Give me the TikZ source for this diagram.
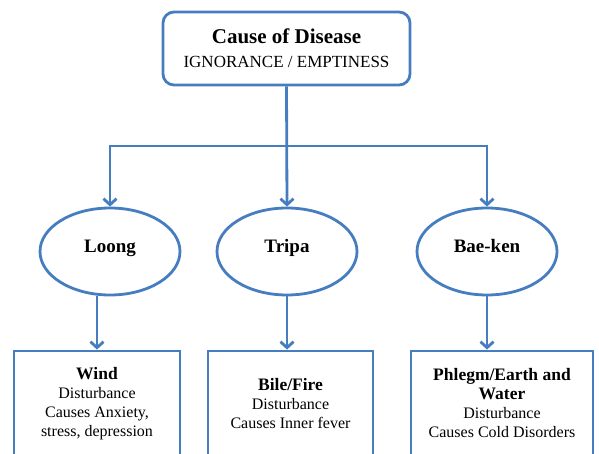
\documentclass[tikz,border=0pt]{standalone}
\usepackage{fontspec}
\setmainfont{Liberation Serif}
\usetikzlibrary{shapes.geometric,arrows.meta}
\definecolor{linkblue}{RGB}{70,124,192}
\begin{document}
\begin{tikzpicture}[x=1pt,y=-1pt,line width=2.8pt,color=linkblue,
    >={Straight Barb[length=6pt,width=13pt]},
    rootbox/.style={draw,rounded corners=11pt,minimum width=247pt,minimum height=73pt,text=black,align=center,font=\fontsize{17}{24}\selectfont},
    humour/.style={draw,ellipse,minimum width=140pt,minimum height=87pt,text=black,font=\fontsize{19}{22}\selectfont\bfseries},
    effectbox/.style={draw,minimum height=105pt,text=black,align=center,font=\fontsize{16}{19}\selectfont}]
    \useasboundingbox (0,0) rectangle (599,454);
    \clip (0,0) rectangle (599,454);
    \node[rootbox] (cause) at (286.5,48.5)
       {{\fontsize{21}{24}\selectfont\bfseries Cause of Disease}\\IGNORANCE / EMPTINESS};
    \foreach \n/\x/\t in {loong/110/Loong,tripa/287/Tripa,baeken/487/Bae-ken}{
       \node[humour] (\n) at (\x,251.5) {\raisebox{11pt}{\t}};   % label sits a bit high
    }
    \node[effectbox,minimum width=166pt] (wind) at (97,403.5)
       {{\fontsize{17.5}{19}\selectfont\bfseries Wind}\\Disturbance\\Causes Anxiety,\\stress, depression};
    \node[effectbox,minimum width=165pt] (bile) at (290.5,403.5)
       {{\fontsize{17.5}{19}\selectfont\bfseries Bile/Fire}\\Disturbance\\Causes Inner fever};
    \node[effectbox,minimum width=182pt] (phlegm) at (502,403.5)
       {{\fontsize{17.5}{19}\selectfont\bfseries Phlegm/Earth and}\\{\fontsize{17.5}{19}\selectfont\bfseries Water}\\Disturbance\\Causes Cold Disorders};
    \coordinate (split) at (287,146);
    \draw[->] (cause.south) -- (tripa.north);
    \draw[->] (split) -| (loong.north);
    \draw[->] (split) -| (baeken.north);
    \draw[->] (loong.south -| wind.north) -- (wind.north);
    \draw[->] (tripa.south) -- (tripa.south |- bile.north);
    \draw[->] (baeken.south) -- (baeken.south |- phlegm.north);
\end{tikzpicture}
\end{document}
